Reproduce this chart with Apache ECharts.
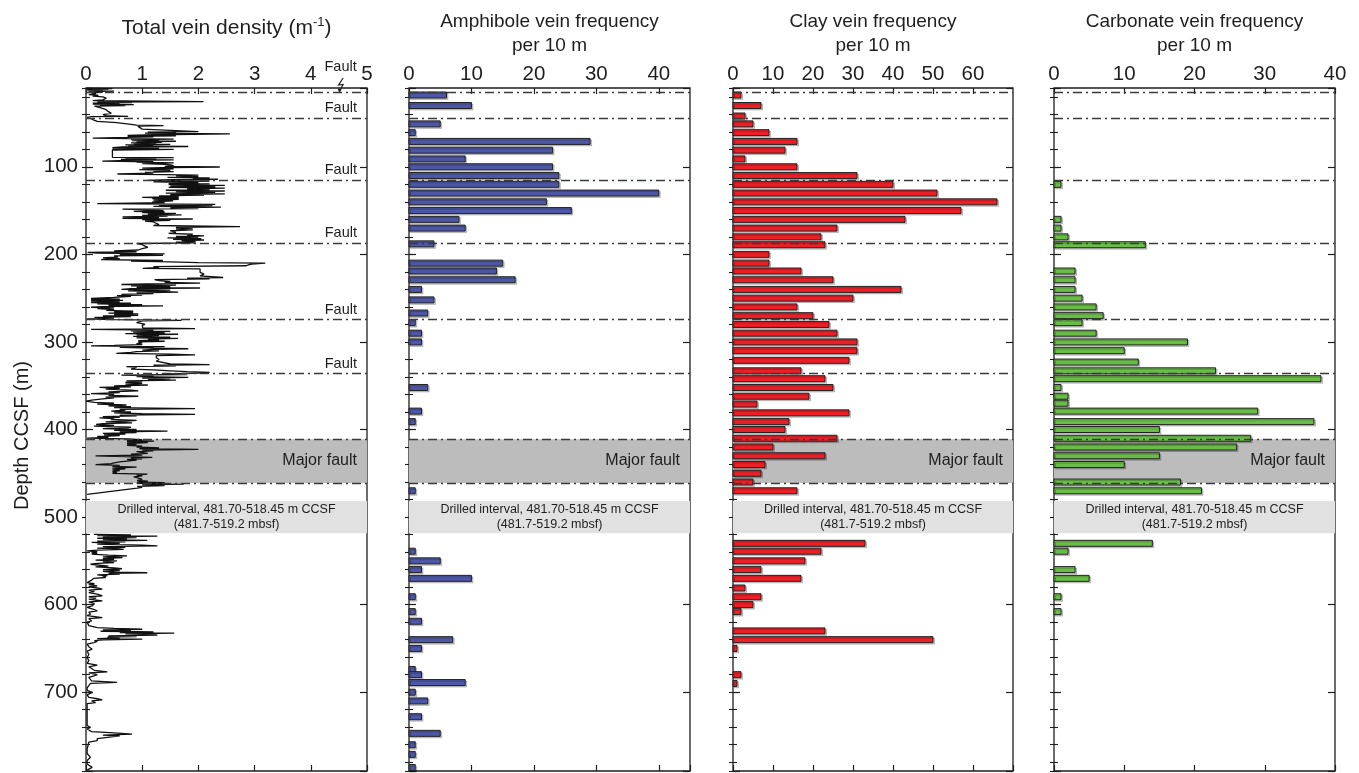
<!DOCTYPE html>
<html>
<head>
<meta charset="utf-8">
<title>Vein density and frequency vs depth</title>
<script src="https://cdn.jsdelivr.net/npm/echarts@6.0.0/dist/echarts.min.js"></script>
<style>
  html, body { margin: 0; padding: 0; background: #ffffff; }
  #chart { width: 1359px; height: 773px; }
</style>
</head>
<body>
<div id="chart"></div>
<script>
// ---- Depth range and structural intervals (m CCSF) ----
const depthMin = 10;
const depthMax = 790;
const faultDepths = [15, 44, 115, 187, 274.5, 335.5];
const faultLabels = ['', 'Fault', 'Fault', 'Fault', 'Fault', 'Fault'];
const majorFaultZone = [411, 461];
const drilledZone = [481.7, 518.45];

// ---- Total vein density (m^-1): [depth, density] above the drilled gap ----
const densityUpper = [
  [10.2,0.02],[10.6,0.47],[11.0,0.05],[11.5,0.4],[12.0,0.02],[12.5,0.3],[13.0,0.03],[13.6,0.5],[14.2,0.05],[14.8,0.3],[15.4,0.1],
  [16.5,0.18],[17.5,0.05],[18.3,0.22],[19.2,0.12],[20.2,0.3],[21.5,0.36],[22.5,0.38],[23.5,0.3],[24.5,0.12],
  [25.2,0.12],[25.6,2.09],[26.0,0.2],[26.6,0.82],[27.2,0.12],[27.8,0.6],[28.4,0.12],[29.0,0.85],[29.6,0.25],[30.2,0.7],[30.8,0.15],
  [32.5,0.25],[34.5,0.35],[37.0,0.4],[39.0,0.45],[40.5,0.3],[41.5,0.35],[42.3,0.75],[42.8,0.1],[43.5,0.02],[44.2,0.06],
  [46.0,0.12],[48.0,0.2],[49.5,0.55],[51.5,0.8],[52.5,0.9],[53.0,1.38],[53.5,0.92],[55.0,0.95],[57.0,1.0],[59.0,1.0],
  [59.8,2.0],[60.4,1.1],[61.0,1.6],[61.6,1.05],[62.3,2.56],[62.8,1.9],[63.4,1.2],[64.0,0.74],[64.6,1.6],[65.2,0.74],[65.8,1.2],[66.4,0.74],
  [67.2,0.12],[67.8,0.74],[68.4,1.56],[69.0,0.8],[69.6,1.3],[70.2,0.82],[70.8,1.6],[71.4,0.9],[72.0,1.35],[72.6,0.8],[73.2,1.25],
  [73.8,0.85],[74.4,1.5],[75.0,0.7],[75.6,1.2],[76.2,0.75],[76.8,1.82],[77.4,0.65],[78.2,0.47],
  [79.0,1.3],[79.6,0.47],[80.2,1.56],[80.8,0.47],[89.2,0.47],[89.6,1.56],
  [90.2,0.7],[90.8,1.25],[91.4,0.62],[92.0,1.56],[92.6,0.75],[93.4,0.29],[94.2,1.2],[94.8,0.9],[95.6,1.56],[96.4,1.0],[97.2,1.42],
  [97.8,1.5],[98.6,1.56],[99.4,1.4],[100.2,2.38],[100.8,1.5],
  [101.6,1.0],[102.4,1.56],[103.2,0.95],[104.0,1.5],[104.8,1.2],[105.6,1.56],[106.4,1.05],[107.2,1.2],[108.2,0.56],[109.0,1.4],
  [109.6,2.0],[110.4,1.6],[111.2,2.0],[112.0,1.45],[112.8,2.2],[113.6,1.9],[114.2,2.35],[114.8,1.5],
  [115.6,1.09],[116.4,2.2],[117.2,1.2],[118.0,2.0],[118.8,1.47],[119.6,2.2],[120.4,1.47],[121.2,2.47],[122.0,1.5],[122.8,2.3],
  [123.6,1.47],[124.4,2.47],[125.2,1.8],[126.0,2.2],[126.8,1.42],[127.6,2.47],[128.4,1.6],[129.2,2.3],[130.0,1.42],[130.8,2.47],
  [131.6,1.5],[132.4,2.1],[133.2,1.3],[134.0,1.65],[134.8,1.0],
  [135.6,1.65],[136.4,1.18],[137.2,1.65],[138.0,1.2],[139.0,1.55],[140.0,1.18],[141.0,1.4],[142.0,0.2],[142.8,2.3],[143.6,1.3],
  [144.4,2.25],[145.2,1.2],[146.0,2.4],[146.8,1.5],[147.6,2.0],[148.4,0.65],[149.2,1.1],
  [150.0,1.38],[150.8,0.85],[151.6,1.4],[152.4,1.0],[153.2,1.6],[154.0,1.1],[154.8,1.7],[155.6,1.0],[156.4,1.45],[157.2,0.65],
  [158.0,1.3],[158.8,0.65],[159.6,1.9],[160.4,1.0],[161.2,1.5],[162.0,1.05],[163.0,1.2],[164.0,1.18],[165.0,1.2],[166.0,1.3],
  [167.0,1.2],[168.4,2.74],[169.2,1.6],
  [170.0,1.9],[171.0,1.6],[172.0,1.9],[173.0,1.5],[174.0,1.47],[175.0,1.6],[176.0,1.47],[177.0,1.9],[178.0,1.8],[178.8,2.1],
  [179.6,1.6],[180.4,2.0],[181.2,1.45],[182.0,2.05],[182.8,1.55],[183.6,2.1],[184.4,1.7],[185.2,1.95],[186.0,1.6],[186.8,1.95],[187.6,0.9],
  [189.0,1.0],[190.5,1.05],[192.0,1.1],[193.5,1.0],[195.0,0.93],[196.0,0.5],[197.0,0.9],[197.7,0.03],[198.6,0.2],[199.4,1.4],
  [200.2,0.6],[201.0,1.37],[201.8,0.5],
  [203.0,0.57],[204.0,0.3],[205.0,0.6],[206.0,0.27],[207.0,1.37],[207.8,0.8],[208.6,1.5],[209.4,2.0],[209.9,3.19],[211.0,2.95],
  [212.0,2.89],[213.0,2.85],[214.0,1.2],[215.0,1.3],[216.0,1.01],[216.6,2.03],
  [218.5,2.03],[220.5,2.03],[222.5,2.1],[224.5,2.03],[225.6,2.03],[226.4,2.44],[227.2,1.8],[228.0,2.2],[228.8,1.22],
  [230.0,1.3],[231.0,1.5],[232.0,1.4],[232.8,2.03],[233.6,1.1],[234.4,0.63],[235.2,1.6],[236.0,0.8],[236.8,1.5],[237.6,0.9],
  [238.4,2.03],[239.2,0.8],[240.0,0.63],[240.8,1.5],[241.6,0.75],[242.4,1.3],[243.2,1.64],[244.0,0.9],[244.8,1.2],[245.6,0.63],
  [246.4,1.0],[247.2,0.55],[248.0,0.8],[249.0,0.5],
  [250.2,0.09],[251.0,0.6],[251.8,0.09],[252.6,0.66],[253.4,0.09],[254.2,0.6],[255.0,0.09],[255.8,0.8],[256.6,0.2],[257.4,1.0],
  [258.2,0.4],[258.8,1.37],[259.6,0.3],[260.4,0.09],[261.2,0.5],[262.0,0.2],[263.0,0.5],[264.0,0.36],[264.8,0.84],[265.6,0.5],
  [266.4,0.84],[267.2,0.4],[268.0,0.93],[268.8,0.5],[269.6,0.93],[270.4,0.3],
  [271.2,0.8],[272.0,0.15],[272.8,0.5],[273.6,0.02],[274.5,0.5],[275.3,1.7],
  [276.0,1.0],[277.0,1.01],[278.0,0.9],[279.0,1.0],[280.0,1.05],[281.0,1.0],[282.0,1.01],[283.0,1.0],[284.0,1.01],[284.8,1.94],
  [285.6,0.09],[286.4,1.2],[287.2,0.8],[288.0,1.5],[288.8,0.84],[289.6,1.4],[290.4,0.7],[291.2,1.64],[292.0,0.9],[292.8,1.3],
  [293.6,0.84],[294.4,1.5],[295.2,0.9],[296.0,1.64],[296.8,1.1],[297.6,1.3],[298.4,0.93],[299.2,1.4],[300.0,0.93],
  [301.0,1.0],[302.0,0.9],[303.0,1.0],[304.0,0.5],[304.6,0.09],[305.4,1.4],[306.2,0.6],[307.0,1.2],[307.8,1.82],[308.6,1.2],
  [309.4,1.0],[310.2,1.3],[311.0,0.9],[312.0,0.8],[313.0,0.54],[314.0,1.5],[314.8,1.94],[315.6,1.25],
  [318.0,1.25],[320.0,1.3],[322.0,1.25],[324.0,1.25],[325.2,1.5],[325.9,2.2],[326.6,1.2],[327.4,1.6],[328.2,0.72],[329.0,0.9],
  [330.0,0.87],[331.0,0.8],
  [332.0,1.2],[333.0,1.5],[334.0,1.8],[334.8,2.2],[335.6,2.0],[336.4,1.5],[337.2,1.8],[338.0,0.63],[338.8,1.2],[339.6,0.9],
  [340.4,1.82],[341.2,1.0],[342.0,1.5],[342.8,1.1],[343.6,1.6],[344.4,0.72],[345.2,1.0],
  [346.2,0.7],[347.2,1.0],[348.2,0.7],[349.2,1.1],[350.2,0.5],[351.2,0.8],[352.0,0.24],[353.0,0.6],[354.0,0.35],[355.0,0.8],
  [356.0,0.93],[357.0,0.4],[358.0,0.6],[359.0,0.09],[360.0,0.5],[361.0,0.4],[362.0,0.93],[363.0,0.35],[364.0,0.5],[365.0,0.3],
  [366.5,0.1],[367.7,0.0],[369.0,0.15],[370.0,0.5],[371.0,0.2],[372.0,0.72],[373.0,0.4],[374.0,0.8],[375.0,0.5],[376.2,1.94],
  [377.0,0.6],[378.0,0.7],[379.0,0.45],[380.0,0.8],[381.0,0.5],[382.0,1.0],[382.8,1.94],[383.6,0.6],[384.4,0.9],[385.2,0.3],
  [386.0,0.6],[386.8,0.24],[387.6,0.5],[388.6,0.44],[389.6,0.9],[390.5,0.72],[391.4,0.35],[392.4,0.82],[393.4,0.3],[394.3,0.18],
  [395.2,0.5],[396.2,0.14],[397.2,0.8],[398.0,0.75],[399.0,0.3],[400.0,0.9],
  [401.0,0.5],[401.9,1.45],[402.8,0.6],[403.6,0.9],[404.4,0.3],[405.2,0.7],[406.0,0.32],[407.0,0.6],[408.0,0.2],[409.0,0.4],
  [409.8,0.02],[410.6,0.73],
  [411.6,1.0],[412.4,0.73],[413.2,1.21],[414.0,0.73],[415.0,1.1],[416.0,0.73],[417.0,0.9],[418.0,0.73],[419.0,1.0],[420.0,0.9],
  [421.0,1.3],[422.0,0.95],[422.8,2.0],[423.6,1.0],[424.4,1.2],[425.2,0.9],
  [426.2,0.91],[427.2,1.1],[428.2,0.8],[429.2,1.0],[430.2,0.17],[431.0,0.7],[431.8,1.18],[432.6,0.8],[433.4,1.0],[434.2,0.73],
  [435.0,0.9],[436.0,0.73],[437.0,0.6],[438.0,0.5],[439.0,0.45],[440.0,0.17],[441.0,0.6],
  [442.0,0.47],[443.0,0.9],[444.0,0.47],[445.0,0.7],[446.0,0.47],[447.0,0.6],[448.0,0.47],[449.0,0.55],[450.0,0.47],[451.0,1.09],
  [452.0,0.9],[453.0,1.0],[454.0,0.85],[455.0,0.91],[456.0,0.9],[457.0,1.0],[458.0,0.91],[459.0,1.1],[460.0,0.91],[460.8,1.4],
  [461.6,0.9],[462.4,1.74],[463.2,1.0],[464.0,1.4],[465.0,0.91],[466.0,1.0],[467.0,0.91],[474.1,0.02]
];

// ---- Total vein density (m^-1): [depth, density] below the drilled gap ----
const densityLower = [
  [519.7,0.14],[520.4,0.8],[521.2,0.2],[521.8,1.27],[522.6,0.3],[523.4,0.9],[524.2,0.2],[525.0,0.73],[525.8,0.3],[526.6,1.09],
  [527.4,0.2],[528.2,0.7],[529.0,0.1],[530.0,0.6],[531.0,0.2],[532.2,1.0],[533.0,1.27],[533.8,0.3],[534.6,0.7],[535.4,0.2],
  [536.2,0.5],[537.0,0.67],[537.8,0.2],[538.6,0.02],[539.6,0.2],[540.6,0.1],[541.4,0.2],[542.4,0.1],[543.4,0.4],[544.4,0.73],
  [545.4,0.3],[546.4,0.65],[547.4,0.3],[548.4,0.5],[549.2,0.17],[550.0,0.55],[551.0,0.3],[552.0,0.5],[553.0,0.2],[553.9,0.08],
  [555.0,0.1],[556.0,0.4],[557.0,0.17],[558.0,0.5],[559.0,0.64],[560.0,0.3],[561.0,0.6],[562.0,0.3],
  [563.0,0.5],[563.6,1.09],[564.4,0.4],[565.2,0.6],[566.0,0.2],[567.0,0.38],[568.0,0.3],[569.0,0.35],[570.0,0.14],[571.0,0.12],
  [572.0,0.1],[573.0,0.12],
  [574.8,0.02],[576.0,0.15],[577.0,0.05],[578.6,0.2],[579.6,0.05],[581.0,0.2],[582.4,0.29],[583.4,0.05],[585.0,0.15],[586.2,0.05],
  [588.0,0.2],[590.0,0.29],[591.0,0.05],[592.5,0.18],[593.8,0.05],[595.7,0.29],[597.0,0.05],[599.0,0.15],[601.4,0.11],[603.0,0.02],
  [605.0,0.12],[607.2,0.2],[608.5,0.05],[611.0,0.08],[612.5,0.02],[614.8,0.29],[616.0,0.05],[618.6,0.1],[620.0,0.02],[624.0,0.05],
  [626.2,0.2],[627.2,0.5],[628.1,1.0],[628.8,0.3],[629.6,0.8],[630.4,0.26],[631.2,1.2],[632.0,0.6],[632.6,1.57],[633.4,0.7],
  [634.2,1.2],[634.9,1.27],[635.6,0.4],[636.4,0.9],[637.2,0.38],[638.0,0.6],[638.8,0.2],[639.5,1.0],[640.2,0.3],[641.0,0.15],
  [642.0,0.2],[643.3,0.14],[645.0,0.02],
  [648.0,0.05],[650.9,0.11],[653.0,0.02],[657.0,0.05],[660.4,0.02],[664.0,0.05],[667.0,0.02],[669.1,0.2],[671.0,0.05],[673.0,0.02],
  [675.0,0.15],[676.7,0.38],[678.0,0.05],[680.0,0.2],[681.3,0.14],[683.0,0.05],[685.0,0.08],[687.0,0.1],[688.9,0.55],[690.0,0.08],
  [692.6,0.05],[695.0,0.02],[698.0,0.02],[700.3,0.11],[703.0,0.02],[706.0,0.05],[707.5,0.2],[708.7,0.29],[710.0,0.1],[711.8,0.17],
  [713.0,0.02],[719.3,0.02],[724.0,0.02],[732.0,0.02],[738.0,0.02],[740.2,0.08],[742.0,0.02],[745.0,0.1],[746.5,0.5],[747.8,0.82],
  [749.0,0.3],[750.0,0.6],[751.6,0.62],[753.0,0.2],[755.4,0.2],[757.0,0.05],[759.2,0.02],[765.0,0.02],[770.0,0.02],[774.4,0.08],
  [778.0,0.02],[782.0,0.02],[785.9,0.11],[789.0,0.02]
];

// ---- Vein frequency per 10 m interval ----
const amphDepth = [18, 30, 51, 61, 71, 81, 91, 100, 110, 120, 130, 140, 150, 160, 170, 188, 210, 219, 229, 240,
  252, 267, 278, 290, 300, 352, 379, 391, 470, 539, 550, 560, 570, 591, 608, 619, 640, 650, 674, 680,
  689, 700, 710, 728, 747, 760, 771, 786];
const amphValue = [6, 10, 5, 1, 29, 23, 9, 23, 24, 24, 40, 22, 26, 8, 9, 4, 15, 14, 17, 2,
  4, 3, 1, 2, 2, 3, 2, 1, 1, 1, 5, 2, 10, 1, 1, 2, 7, 2, 1, 2,
  9, 1, 3, 2, 5, 1, 1, 1];

const clayDepth = [18, 30, 42, 51, 61, 71, 81, 91, 100, 110, 120, 130, 140, 150, 160, 170, 180, 189, 200, 210,
  219, 229, 240, 250, 260, 270, 280, 290, 300, 310, 321, 333, 342, 352, 362, 371, 381, 391, 400, 410,
  420, 430, 440, 450, 460, 470, 530, 539, 550, 560, 570, 581, 591, 600, 608, 630, 640, 650, 680, 690];
const clayValue = [2, 7, 3, 5, 9, 16, 13, 3, 16, 31, 40, 51, 66, 57, 43, 26, 22, 23, 9, 9,
  17, 25, 42, 30, 16, 20, 24, 26, 31, 31, 29, 17, 23, 25, 19, 6, 29, 14, 13, 26,
  10, 23, 8, 7, 5, 16, 33, 22, 18, 7, 17, 3, 7, 5, 2, 23, 50, 1, 2, 1];

const carbDepth = [120, 160, 170, 180, 189, 219, 229, 240, 250, 260, 270, 278, 290, 300, 310, 323, 333, 342, 352, 362,
  370, 379, 391, 400, 410, 420, 430, 440, 460, 470, 530, 539, 560, 570, 591, 608];
const carbValue = [1, 1, 1, 2, 13, 3, 3, 3, 4, 6, 7, 4, 6, 19, 10, 12, 23, 38, 1, 2,
  2, 29, 37, 15, 28, 26, 15, 10, 18, 21, 14, 2, 3, 5, 1, 1];

// ---- Layout ----
const FONT = '"Liberation Sans", Arial, Helvetica, sans-serif';
const INK = '#1e1e1e';
const TOP = 88, HEIGHT = 683;
const panels = [
  { left: 86,   width: 281, max: 5,  interval: 1,  showMax: true },
  { left: 409,  width: 281, max: 45, interval: 10, showMax: false },
  { left: 733,  width: 280, max: 70, interval: 10, showMax: false },
  { left: 1054, width: 281, max: 40, interval: 10, showMax: true }
];
const barSets = [
  null,
  { depth: amphDepth, value: amphValue, color: '#4d57a6' },
  { depth: clayDepth, value: clayValue, color: '#ec1f26' },
  { depth: carbDepth, value: carbValue, color: '#69bd47' }
];

const grids = [], xAxes = [], yAxes = [], series = [];

panels.forEach((p, g) => {
  grids.push({ left: p.left, top: TOP, width: p.width, height: HEIGHT, show: true,
    borderColor: INK, borderWidth: 1.3, backgroundColor: 'transparent' });

  const xBase = { type: 'value', gridIndex: g, min: 0, max: p.max, interval: p.interval,
    axisLine: { show: false }, splitLine: { show: false },
    axisTick: { show: true, inside: true, length: 6, lineStyle: { color: INK, width: 1.2 } } };
  xAxes.push(Object.assign({}, xBase, { position: 'top',
    axisLabel: { show: true, margin: 3, fontSize: 20.5, fontFamily: FONT, color: INK,
      showMinLabel: true, showMaxLabel: p.showMax } }));
  xAxes.push(Object.assign({}, xBase, { position: 'bottom', axisLabel: { show: false } }));

  const yBase = { type: 'value', gridIndex: g, min: depthMin, max: depthMax, inverse: true,
    axisLine: { show: false }, splitLine: { show: false } };
  // 20 m ticks
  ['left', 'right'].forEach(pos => {
    yAxes.push(Object.assign({}, yBase, { position: pos, splitNumber: 39,
      axisTick: { show: true, inside: true, length: 4, lineStyle: { color: INK, width: 1.1 } },
      axisLabel: { show: false } }));
  });
  // 100 m ticks (labelled on the first panel)
  ['left', 'right'].forEach(pos => {
    const ax = Object.assign({}, yBase, { position: pos, splitNumber: 8,
      axisTick: { show: true, inside: true, length: 7, lineStyle: { color: INK, width: 1.2 } },
      axisLabel: { show: g === 0 && pos === 'left', margin: 8, fontSize: 20.5, fontFamily: FONT, color: INK,
        formatter: v => (v % 100 === 0 ? String(v) : '') } });
    if (g === 0 && pos === 'left') {
      Object.assign(ax, { name: 'Depth CCSF (m)', nameLocation: 'middle', nameGap: 54, nameRotate: 90,
        nameTextStyle: { fontSize: 20, fontFamily: FONT, color: INK, padding: [0, 0, 0, -12] } });
    }
    yAxes.push(ax);
  });

  const xi = 2 * g, yi = 4 * g;

  // shaded intervals
  series.push({
    type: 'line', xAxisIndex: xi, yAxisIndex: yi, data: [], silent: true,
    markArea: {
      silent: true,
      data: [
        [{ yAxis: majorFaultZone[0], itemStyle: { color: '#bcbcbc' },
           label: { show: true, position: 'insideRight', formatter: 'Major fault', fontSize: 16,
             fontFamily: FONT, color: INK, distance: 10 } },
         { yAxis: majorFaultZone[1] }],
        [{ yAxis: drilledZone[0], itemStyle: { color: '#e1e1e1' },
           label: { show: true, position: 'inside',
             formatter: 'Drilled interval, 481.70-518.45 m CCSF\n(481.7-519.2 mbsf)',
             fontSize: 12.5, lineHeight: 15, fontFamily: FONT, color: INK, align: 'center' } },
         { yAxis: drilledZone[1] }]
      ]
    }
  });

  // vein data
  if (g === 0) {
    const profile = densityUpper.map(r => [r[1], r[0]])
      .concat([[null, null]])
      .concat(densityLower.map(r => [r[1], r[0]]));
    series.push({
      type: 'line', xAxisIndex: xi, yAxisIndex: yi, z: 3,
      data: profile,
      showSymbol: false, symbol: 'none', connectNulls: false, silent: true,
      lineStyle: { color: '#111111', width: 1.3 }
    });
  } else {
    const set = barSets[g];
    series.push({
      type: 'custom', xAxisIndex: xi, yAxisIndex: yi, z: 3, silent: true,
      data: set.depth.map((d, i) => [set.value[i], d]),
      encode: { x: 0, y: 1 },
      renderItem: (params, api) => {
        const v = api.value(0), d = api.value(1);
        const p0 = api.coord([0, d]);
        const p1 = api.coord([v, d]);
        const h = 6;
        return {
          type: 'rect',
          shape: { x: p0[0], y: p0[1] - h / 2, width: p1[0] - p0[0], height: h },
          style: { fill: set.color, stroke: '#222222', lineWidth: 1,
            shadowColor: 'rgba(0,0,0,0.2)', shadowOffsetX: 1.5, shadowOffsetY: 1.5, shadowBlur: 0 }
        };
      }
    });
  }

  // fault traces
  const faultLine = { color: '#3a3a3a', width: 1.3, type: [9, 4, 2, 4] };
  series.push({
    type: 'line', xAxisIndex: xi, yAxisIndex: yi, data: [], silent: true,
    markLine: {
      silent: true, symbol: 'none', animation: false,
      lineStyle: faultLine,
      data: faultDepths.map((d, i) => ({
        yAxis: d,
        label: { show: g === 0 && faultLabels[i] !== '', formatter: faultLabels[i], position: 'insideEndTop',
          fontSize: 14.5, fontFamily: FONT, color: INK, distance: [10, 2] }
      })).concat(majorFaultZone.map(d => ({ yAxis: d, label: { show: false } })))
    }
  });
});

// panel headings
const headings = [
  { text: 'Total vein density (m{sup|-1})', cy: 28, size: 21 },
  { text: 'Amphibole vein frequency\nper 10 m', cy: 34, size: 19 },
  { text: 'Clay vein frequency\nper 10 m', cy: 34, size: 19 },
  { text: 'Carbonate vein frequency\nper 10 m', cy: 34, size: 19 }
];
const graphic = headings.map((h, g) => ({
  type: 'text', x: panels[g].left + panels[g].width / 2, y: h.cy, silent: true,
  style: { text: h.text, fill: INK, font: h.size + 'px ' + FONT, align: 'center', verticalAlign: 'middle',
    lineHeight: 24,
    rich: { sup: { fontSize: 13, fontFamily: FONT, fill: INK, verticalAlign: 'top', lineHeight: 24, padding: [0, 0, 8, 0] } } }
}));

// fault marker at the top of the density panel
const fx = panels[0].left + (4.53 / panels[0].max) * panels[0].width;
graphic.push({ type: 'text', x: fx, y: 67, silent: true,
  style: { text: 'Fault', fill: INK, font: '14.5px ' + FONT, align: 'center', verticalAlign: 'middle' } });
graphic.push({ type: 'polyline', silent: true,
  shape: { points: [[fx + 2.5, 78], [fx - 2, 85], [fx + 2.5, 84.5], [fx - 1, 91]] },
  style: { stroke: INK, lineWidth: 1.2, fill: null } });
graphic.push({ type: 'polygon', silent: true,
  shape: { points: [[fx - 3, 88.5], [fx - 1.2, 93], [fx + 1, 89.5]] },
  style: { fill: INK } });

const chart = echarts.init(document.getElementById('chart'), null, { renderer: 'canvas' });
chart.setOption({
  animation: false,
  backgroundColor: '#ffffff',
  textStyle: { fontFamily: FONT },
  grid: grids,
  xAxis: xAxes,
  yAxis: yAxes,
  series: series,
  graphic: graphic
});
</script>
</body>
</html>
